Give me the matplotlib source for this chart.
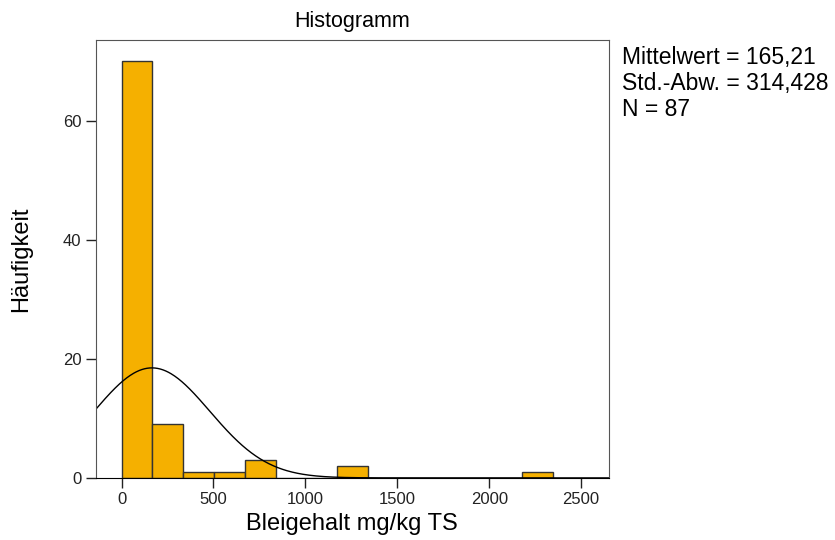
import numpy as np
import matplotlib.pyplot as plt

plt.rcParams['font.family'] = ['Liberation Sans', 'DejaVu Sans']

# histogram data (Bleigehalt mg/kg TS)
bin_width = 167.5
counts = [70, 9, 1, 1, 3, 0, 0, 2, 0, 0, 0, 0, 0, 1]
mean = 165.21
std = 314.428
n = 87

x_ticks = [0, 500, 1000, 1500, 2000, 2500]
y_ticks = [0, 20, 40, 60]

edges = np.arange(len(counts)) * bin_width

fig = plt.figure(figsize=(8.35, 5.4), dpi=100)
ax = fig.add_axes([0.115, 0.115, 0.614, 0.811])

ax.bar(edges, counts, width=bin_width, align='edge',
       color='#F5B000', edgecolor='#333333', linewidth=1.0)

# normal curve scaled to counts
xs = np.linspace(-200, 2700, 600)
ys = n * bin_width / (std * np.sqrt(2 * np.pi)) * np.exp(-0.5 * ((xs - mean) / std) ** 2)
ax.plot(xs, ys, color='black', linewidth=1.0)

ax.set_xlim(-139, 2650)
ax.set_ylim(0, 73.6)
ax.set_xticks(x_ticks)
ax.set_yticks(y_ticks)
ax.tick_params(direction='out', length=7, width=1, labelsize=12, colors='#222222')

for side in ['top', 'right', 'left']:
    ax.spines[side].set_color('#555555')
ax.spines['bottom'].set_color('black')

ax.set_title('Histogramm', fontsize=15.5, pad=9)
ax.set_xlabel('Bleigehalt mg/kg TS', fontsize=17, labelpad=4)
ax.set_ylabel('Häufigkeit', fontsize=17, labelpad=22)

fig.text(0.745, 0.915, 'Mittelwert = 165,21\nStd.-Abw. = 314,428\nN = 87',
         fontsize=16.5, va='top', ha='left', linespacing=1.18)

fig.savefig('out.png', dpi=100)
